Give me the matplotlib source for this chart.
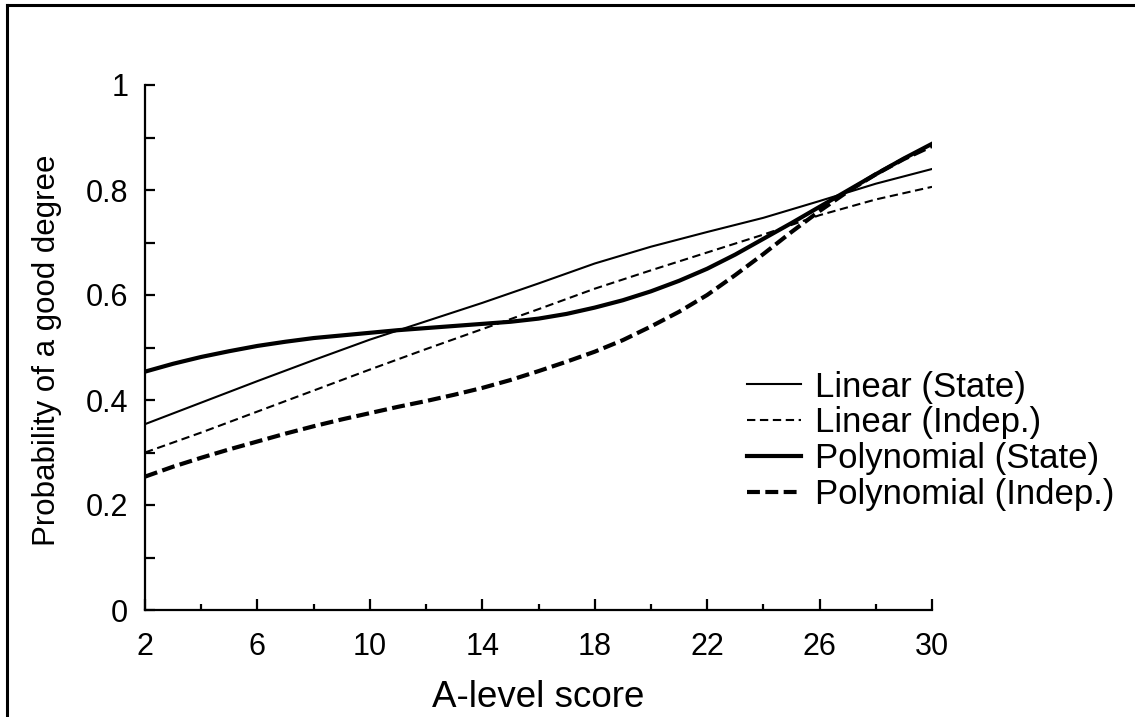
import numpy as np
import matplotlib.pyplot as plt
from matplotlib.ticker import FixedLocator

plt.rcParams['font.family'] = ['Liberation Sans', 'DejaVu Sans']

# A-level score points
score_lin = [2, 4, 6, 8, 10, 12, 14, 16, 18, 20, 22, 24, 26, 28, 30]
score_poly = list(range(2, 31))

# Probability curves
linear_state = [0.354, 0.395, 0.436, 0.476, 0.515, 0.550, 0.585, 0.622, 0.660, 0.692,
                0.720, 0.747, 0.779, 0.812, 0.840]
linear_indep = [0.300, 0.338, 0.378, 0.418, 0.458, 0.497, 0.535, 0.573, 0.612, 0.647,
                0.681, 0.715, 0.752, 0.782, 0.806]
poly_state = [0.454, 0.469, 0.482, 0.493, 0.503, 0.511, 0.518, 0.523, 0.528, 0.533,
              0.537, 0.541, 0.545, 0.549, 0.555, 0.564, 0.576, 0.590, 0.607, 0.627,
              0.650, 0.677, 0.707, 0.737, 0.768, 0.799, 0.830, 0.860, 0.888]
poly_indep = [0.254, 0.273, 0.290, 0.306, 0.321, 0.336, 0.350, 0.363, 0.375, 0.387,
              0.398, 0.410, 0.423, 0.438, 0.455, 0.473, 0.492, 0.514, 0.540, 0.568,
              0.600, 0.638, 0.678, 0.720, 0.760, 0.797, 0.830, 0.859, 0.884]

x_ticks = [2, 6, 10, 14, 18, 22, 26, 30]
x_minor = [4, 8, 12, 16, 20, 24, 28]
y_ticks = [0, 0.2, 0.4, 0.6, 0.8, 1]
y_ticklabels = ['0', '0.2', '0.4', '0.6', '0.8', '1']

fig = plt.figure(figsize=(11.35, 7.17), dpi=100)
ax = fig.add_axes([145/1135, 1 - 610/717, 787/1135, 525/717])

ax.plot(score_lin, linear_state, color='black', lw=1.5, label='Linear (State)')
ax.plot(score_lin, linear_indep, color='black', lw=1.5, dashes=(4, 2.2), label='Linear (Indep.)')
ax.plot(score_poly, poly_state, color='black', lw=3, label='Polynomial (State)')
ax.plot(score_poly, poly_indep, color='black', lw=3, dashes=(3.1, 1.3), label='Polynomial (Indep.)')

ax.set_xlim(2, 30)
ax.set_ylim(0, 1)
ax.set_xticks(x_ticks)
ax.set_xticklabels([str(t) for t in x_ticks])
ax.xaxis.set_minor_locator(FixedLocator(x_minor))
ax.set_yticks(y_ticks)
ax.set_yticklabels(y_ticklabels)
ax.yaxis.set_minor_locator(FixedLocator([0.1, 0.3, 0.5, 0.7, 0.9]))

for s in ['top', 'right']:
    ax.spines[s].set_visible(False)
for s in ['left', 'bottom']:
    ax.spines[s].set_linewidth(1.6)

ax.tick_params(axis='x', which='major', direction='in', length=8, width=1.6,
               labelsize=22, pad=16)
ax.tick_params(axis='x', which='minor', direction='in', length=4.5, width=1.6)
ax.tick_params(axis='y', which='both', direction='in', length=7.5, width=1.6,
               labelsize=22, pad=12)

ax.set_xlabel('A-level score', fontsize=26.5)
ax.xaxis.set_label_coords(0.5, -0.133)
ax.set_ylabel('Probability of a good degree', fontsize=22.5)
ax.yaxis.set_label_coords(-0.106, 0.495)

ax.legend(loc='upper left', bbox_to_anchor=(0.765, 0.456), frameon=False, fontsize=25,
          handlelength=1.55, handletextpad=0.42, labelspacing=0.08,
          borderpad=0, borderaxespad=0)

# figure frame (left and top edges)
fig.add_artist(plt.Line2D([7/1135, 7/1135], [0, 1 - 5/717], color='black', lw=2.2))
fig.add_artist(plt.Line2D([7/1135, 1], [1 - 5/717, 1 - 5/717], color='black', lw=2.2))

fig.savefig('out.png', dpi=100)
